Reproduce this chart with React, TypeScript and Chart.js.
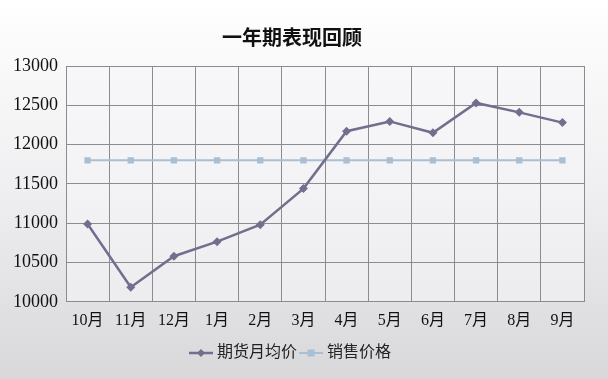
import React, { useEffect, useRef } from "react";
import { Chart, registerables } from "chart.js";

Chart.register(...registerables);

const months = ["10月", "11月", "12月", "1月", "2月", "3月", "4月", "5月", "6月", "7月", "8月", "9月"];
const futuresAvg = [10990, 10185, 10580, 10765, 10980, 11440, 12170, 12295, 12150, 12530, 12410, 12280];
const salesPrice = [11800, 11800, 11800, 11800, 11800, 11800, 11800, 11800, 11800, 11800, 11800, 11800];
const yTicks = [10000, 10500, 11000, 11500, 12000, 12500, 13000];

const title = "一年期表现回顾";
const seriesNames = ["期货月均价", "销售价格"];

const FONT = "'Liberation Serif', 'Noto Sans CJK SC', serif";

function legendIcon(color: string, style: "diamond" | "square", lw: number): HTMLCanvasElement {
  const c = document.createElement("canvas");
  c.width = 26;
  c.height = 12;
  const ctx = c.getContext("2d")!;
  ctx.strokeStyle = color;
  ctx.fillStyle = color;
  ctx.lineWidth = lw;
  ctx.beginPath();
  ctx.moveTo(1, 6);
  ctx.lineTo(25, 6);
  ctx.stroke();
  ctx.beginPath();
  if (style === "diamond") {
    ctx.moveTo(13, 2);
    ctx.lineTo(17, 6);
    ctx.lineTo(13, 10);
    ctx.lineTo(9, 6);
  } else {
    ctx.rect(9.5, 2.5, 7, 7);
  }
  ctx.closePath();
  ctx.fill();
  return c;
}

export default function App() {
  const ref = useRef<HTMLCanvasElement | null>(null);

  useEffect(() => {
    document.body.style.margin = "0";
    const canvas = ref.current!;
    const c1 = "#716f8d";
    const c2 = "#a9bfd3";
    const icons = [legendIcon(c1, "diamond", 2.5), legendIcon(c2, "square", 2)];

    const bgPlugin = {
      id: "bg",
      beforeDraw(chart: any) {
        const { ctx, width, height } = chart;
        const g = ctx.createLinearGradient(0, 0, 0, height);
        g.addColorStop(0, "#ffffff");
        g.addColorStop(0.1, "#fbfbfb");
        g.addColorStop(0.5, "#efeff1");
        g.addColorStop(1, "#d8d8db");
        ctx.save();
        ctx.fillStyle = g;
        ctx.fillRect(0, 0, width, height);
        const a = chart.chartArea;
        ctx.fillStyle = "rgba(245,244,248,0.55)";
        ctx.fillRect(a.left, a.top, a.right - a.left, a.bottom - a.top);
        ctx.restore();
      },
    };

    const chart = new Chart(canvas, {
      type: "line",
      data: {
        labels: months,
        datasets: [
          {
            label: seriesNames[0],
            data: futuresAvg,
            borderColor: c1,
            backgroundColor: c1,
            borderWidth: 2.5,
            pointStyle: "rectRot",
            pointRadius: 4.5,
            pointBorderWidth: 0,
            tension: 0,
          },
          {
            label: seriesNames[1],
            data: salesPrice,
            borderColor: c2,
            backgroundColor: c2,
            borderWidth: 2,
            pointStyle: "rect",
            pointRadius: 4.5,
            pointBorderWidth: 0,
            tension: 0,
          },
        ],
      },
      options: {
        animation: false,
        responsive: false,
        maintainAspectRatio: false,
        layout: { padding: { left: 0, right: 24, top: 0, bottom: 8 } },
        plugins: {
          title: {
            display: true,
            text: title,
            color: "#111",
            font: { family: "'Noto Sans CJK SC', sans-serif", size: 20, weight: "bold" },
            padding: { top: 25, bottom: 17 },
          },
          legend: {
            position: "bottom",
            labels: {
              usePointStyle: true,
              color: "#222",
              font: { family: FONT, size: 16 },
              padding: 6,
              generateLabels: (ch: any) =>
                ch.data.datasets.map((d: any, i: number) => ({
                  text: d.label,
                  pointStyle: icons[i],
                  fillStyle: d.borderColor,
                  strokeStyle: d.borderColor,
                  lineWidth: 0,
                  hidden: false,
                  datasetIndex: i,
                  fontColor: "#222",
                })),
            },
          },
          tooltip: { enabled: false },
        },
        scales: {
          x: {
            offset: true,
            grid: { offset: true, color: "#8c8c8f", lineWidth: 1, drawTicks: false },
            border: { color: "#8c8c8f", width: 1 },
            ticks: { color: "#111", font: { family: FONT, size: 16 }, padding: 9, maxRotation: 0 },
          },
          y: {
            min: 10000,
            max: 13000,
            afterBuildTicks: (s: any) => {
              s.ticks = yTicks.map((v) => ({ value: v }));
            },
            afterFit: (s: any) => {
              s.width = 66;
            },
            grid: { color: "#8c8c8f", lineWidth: 1, drawTicks: false },
            border: { color: "#8c8c8f", width: 1 },
            ticks: {
              color: "#111",
              font: { family: FONT, size: 18 },
              padding: 8,
              callback: (v: any) => String(v),
            },
          },
        },
      },
      plugins: [bgPlugin],
    });
    return () => chart.destroy();
  }, []);

  return (
    <div style={{ width: 608, height: 379 }}>
      <canvas ref={ref} width={608} height={379} style={{ display: "block" }} />
    </div>
  );
}
